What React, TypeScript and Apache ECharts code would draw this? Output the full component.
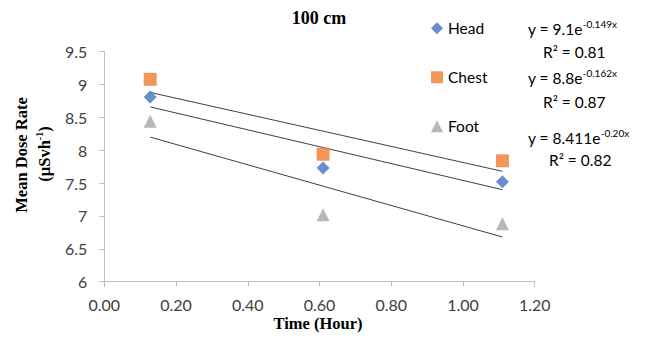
import React, { useEffect, useRef } from "react";
import * as echarts from "echarts";

const times = [0.128, 0.61, 1.11];
const head = [8.81, 7.73, 7.52];
const chest = [9.08, 7.94, 7.84];
const foot = [8.44, 7.02, 6.88];

const trendX = [0.128, 1.11];
const trendTop = [8.88, 7.68];
const trendMid = [8.66, 7.4];
const trendLow = [8.2, 6.68];

const xTicks = [0, 0.2, 0.4, 0.6, 0.8, 1.0, 1.2];
const yTicks = [6, 6.5, 7, 7.5, 8, 8.5, 9, 9.5];

const equations = [
  { base: "9.1", exp: "-0.149x", r2: "0.81" },
  { base: "8.8", exp: "-0.162x", r2: "0.87" },
  { base: "8.411", exp: "-0.20x", r2: "0.82" },
];

const SANS = "Lato, 'Open Sans', sans-serif";
const SERIF = "'Liberation Serif', 'DejaVu Serif', serif";

const pair = (xs: number[], ys: number[]) => xs.map((x, i) => [x, ys[i]]);

export default function App() {
  const ref = useRef<HTMLDivElement>(null);
  useEffect(() => {
    document.body.style.margin = "0";
    const chart = echarts.init(ref.current!, null, { renderer: "svg" });
    const eqText = (e: { base: string; exp: string }) => ({
      text: `{n|y = ${e.base}e}{s|${e.exp}}`,
      rich: {
        n: { fontFamily: SANS, fontSize: 15.5, color: "#000", lineHeight: 18, verticalAlign: "bottom" },
        s: { fontFamily: SANS, fontSize: 10, color: "#000", lineHeight: 12, verticalAlign: "top" },
      },
    });
    const eqPos = [
      { y: 28, ry: 52, rx: 543 },
      { y: 77, ry: 101.5, rx: 543 },
      { y: 136.5, ry: 160, rx: 549 },
    ];
    const graphics: any[] = [
      {
        type: "text",
        x: 319,
        y: 18,
        style: { text: "100 cm", fontFamily: SERIF, fontWeight: "bold", fontSize: 18, fill: "#000", align: "center", verticalAlign: "middle" },
      },
      {
        type: "text",
        x: 318,
        y: 323.5,
        style: { text: "Time (Hour)", fontFamily: SERIF, fontWeight: "bold", fontSize: 16.5, fill: "#000", align: "center", verticalAlign: "middle" },
      },
      {
        type: "text",
        x: 21,
        y: 155,
        rotation: Math.PI / 2,
        style: { text: "Mean Dose Rate", fontFamily: SERIF, fontWeight: "bold", fontSize: 16.5, fill: "#000", align: "center", verticalAlign: "middle" },
      },
      {
        type: "text",
        x: 43.5,
        y: 154,
        rotation: Math.PI / 2,
        style: {
          text: "{n|(µSvh}{s|-1}{n|)}",
          align: "center",
          verticalAlign: "middle",
          rich: {
            n: { fontFamily: SERIF, fontWeight: "bold", fontSize: 16.5, color: "#000", lineHeight: 18, verticalAlign: "bottom" },
            s: { fontFamily: SERIF, fontWeight: "bold", fontSize: 10, color: "#000", lineHeight: 11, verticalAlign: "top" },
          },
        },
      },
    ];
    equations.forEach((e, i) => {
      graphics.push({
        type: "text",
        x: 528,
        y: eqPos[i].y,
        style: { ...eqText(e), verticalAlign: "middle" },
      });
      graphics.push({
        type: "text",
        x: eqPos[i].rx,
        y: eqPos[i].ry,
        style: { text: `R² = ${e.r2}`, fontFamily: SANS, fontSize: 15.5, fill: "#000", verticalAlign: "middle" },
      });
    });

    const trendStyle = { color: "#404040", width: 1 };
    chart.setOption({
      animation: false,
      grid: { left: 104.3, right: 122.3, top: 51.7, bottom: 58.3 },
      legend: {
        orient: "vertical",
        left: 426,
        top: 14.3,
        itemGap: 31,
        itemWidth: 12,
        itemHeight: 12,
        textStyle: { fontFamily: SANS, fontSize: 15.5, color: "#000", lineHeight: 18 },
        data: [
          { name: "Head", icon: "diamond" },
          { name: "Chest", icon: "rect" },
          { name: "Foot", icon: "triangle" },
        ],
      },
      xAxis: {
        type: "value",
        min: xTicks[0],
        max: xTicks[xTicks.length - 1],
        interval: 0.2,
        axisLine: { show: true, lineStyle: { color: "#bfbfbf", width: 1 } },
        axisTick: { show: true, length: 5, lineStyle: { color: "#bfbfbf" } },
        splitLine: { show: false },
        axisLabel: { formatter: (v: number) => v.toFixed(2), fontFamily: SANS, fontSize: 16, color: "#404040", margin: 15 },
      },
      yAxis: {
        type: "value",
        min: yTicks[0],
        max: yTicks[yTicks.length - 1],
        interval: 0.5,
        axisLine: { show: true, lineStyle: { color: "#bfbfbf", width: 1 } },
        axisTick: { show: true, length: 5, lineStyle: { color: "#bfbfbf" } },
        splitLine: { show: false },
        axisLabel: { fontFamily: SANS, fontSize: 16, color: "#404040", margin: 17 },
      },
      series: [
        { name: "trendTop", type: "line", data: pair(trendX, trendTop), showSymbol: false, lineStyle: trendStyle, silent: true, z: 1 },
        { name: "trendMid", type: "line", data: pair(trendX, trendMid), showSymbol: false, lineStyle: trendStyle, silent: true, z: 1 },
        { name: "trendLow", type: "line", data: pair(trendX, trendLow), showSymbol: false, lineStyle: trendStyle, silent: true, z: 1 },
        { name: "Head", type: "scatter", symbol: "diamond", symbolSize: 13, itemStyle: { color: "#4472C4" }, data: pair(times, head), z: 3 },
        { name: "Chest", type: "scatter", symbol: "rect", symbolSize: 13, itemStyle: { color: "#ED7D31" }, data: pair(times, chest), z: 3 },
        { name: "Foot", type: "scatter", symbol: "triangle", symbolSize: 13, itemStyle: { color: "#A5A5A5" }, data: pair(times, foot), z: 3 },
      ],
      graphic: graphics,
    });
    return () => chart.dispose();
  }, []);
  return <div ref={ref} style={{ width: 657, height: 340 }} />;
}
